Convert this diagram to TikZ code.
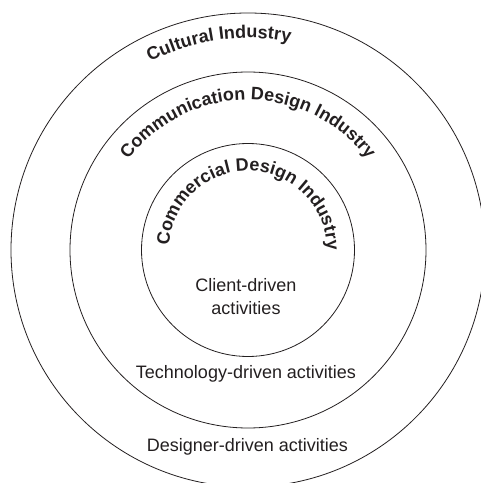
\documentclass[tikz,border=0pt]{standalone}
\usepackage{fontspec}
\setmainfont{Liberation Sans}
\usetikzlibrary{decorations.text,calc}
\definecolor{ink}{HTML}{231F20}
\tikzset{
  ring/.style={draw=ink, line width=0.8pt},
  label/.style={text=ink, font=\fontsize{18}{18}\selectfont, anchor=base, inner sep=0pt},
  arctext/.style={decoration={text along path, text align=center,
      text color=ink, text={|\fontsize{18}{18}\selectfont\bfseries|#1}},
      postaction={decorate}}
}
\begin{document}
\begin{tikzpicture}[x=1pt,y=1pt]
\useasboundingbox (0,0) rectangle (481,483);
\clip (0,0) rectangle (481,483);
\coordinate (c) at (248,233);
% rings
\node[ring, circle, minimum size=474pt, inner sep=0pt] (outer) at (c) {};
\node[ring, circle, minimum size=356pt, inner sep=0pt] (middle) at (c) {};
\node[ring, circle, minimum size=213pt, inner sep=0pt] (inner) at (c) {};
% curved titles
\path[arctext={Cultural Industry}] ($(c)+(128:212)$) arc[start angle=128, end angle=68, radius=212];
\path[arctext={Communication Design Industry}] ($(c)+(170:150)$) arc[start angle=170, end angle=10, radius=150];
\path[arctext={Commercial Design Industry}] ($(c)+(188.5:79)$) arc[start angle=188.5, end angle=-11.5, radius=79];
% activity labels
\node[label] (client) at (246,191.3) {Client-driven};
\node[label] (clientb) at (246,168) {activities};
\node[label] (tech) at (246,104.5) {Technology-driven activities};
\node[label] (designer) at (247.5,31) {Designer-driven activities};
\end{tikzpicture}
\end{document}
